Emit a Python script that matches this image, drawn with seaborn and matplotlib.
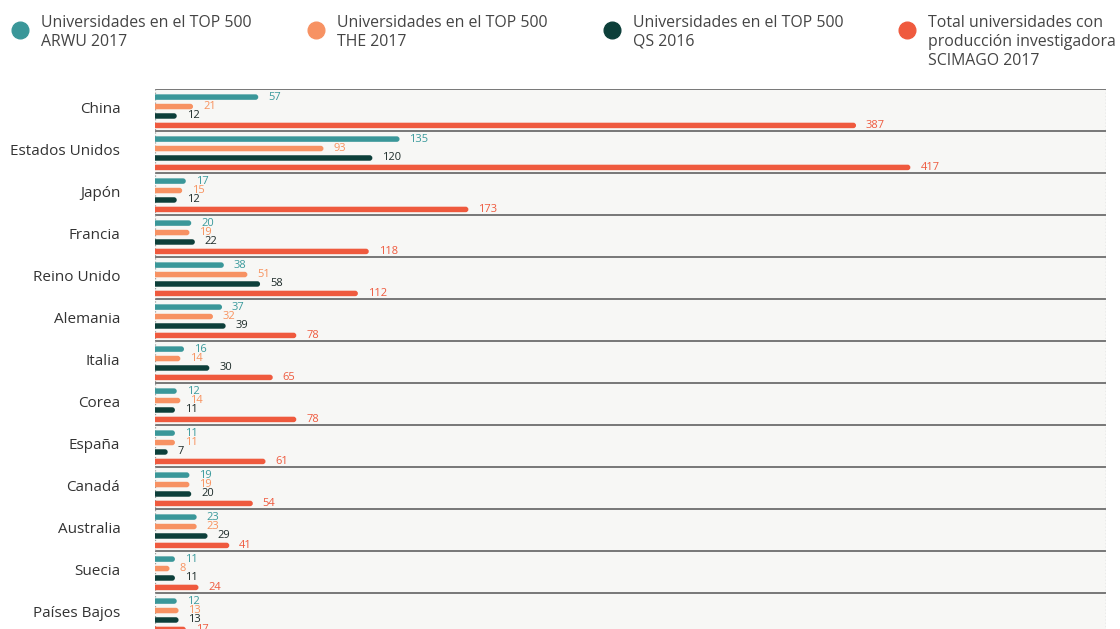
import matplotlib

matplotlib.use("Agg")
import matplotlib.pyplot as plt
import pandas as pd
import seaborn as sns
from matplotlib.lines import Line2D
from matplotlib.patches import FancyBboxPatch
from matplotlib.transforms import ScaledTranslation


PAISES = [
    "China", "Estados Unidos", "Japón", "Francia", "Reino Unido", "Alemania",
    "Italia", "Corea", "España", "Canadá", "Australia", "Suecia", "Países Bajos",
]
ARWU = [57, 135, 17, 20, 38, 37, 16, 12, 11, 19, 23, 11, 12]
THE = [21, 93, 15, 19, 51, 32, 14, 14, 11, 19, 23, 8, 13]
QS = [12, 120, 12, 22, 58, 39, 30, 11, 7, 20, 29, 11, 13]
SCIMAGO = [387, 417, 173, 118, 112, 78, 65, 78, 61, 54, 41, 24, 17]

SERIES = ["ARWU", "THE", "QS", "SCIMAGO"]
LEGEND_LABELS = [
    "Universidades en el TOP 500\nARWU 2017",
    "Universidades en el TOP 500\nTHE 2017",
    "Universidades en el TOP 500\nQS 2016",
    "Total universidades con\nproducción investigadora\nSCIMAGO 2017",
]
BAR_COLORS = ["#3a9799", "#f79263", "#0d3f3a", "#ef5a3e"]
TEXT_COLORS = ["#3a9a9c", "#f7925e", "#1d2b29", "#ef5a3e"]


def main() -> None:
    sns.set_style("white")
    plt.rcParams["font.family"] = ["Open Sans", "DejaVu Sans"]

    df = pd.DataFrame(
        {
            "pais": PAISES * 4,
            "serie": [s for s in SERIES for _ in PAISES],
            "valor": ARWU + THE + QS + SCIMAGO,
        }
    )

    fig = plt.figure(figsize=(11.2, 6.29), dpi=100)
    ax = fig.add_axes([155 / 1120, -6 / 629, 951 / 1120, (635 - 89) / 629])
    ax.set_facecolor("#f7f7f5")

    sns.barplot(
        data=df,
        y="pais",
        x="valor",
        hue="serie",
        hue_order=SERIES,
        order=PAISES,
        palette=BAR_COLORS,
        saturation=1,
        orient="h",
        width=0.9,
        gap=0.42,
        errorbar=None,
        legend=False,
        ax=ax,
    )

    ax.set_xlim(0, 525)
    ax.set_ylim(len(PAISES) - 0.5, -0.5)

    # rounded ends: swap each bar for a rounded patch of the same extent
    px_per_x = 951 / 525
    y_shift = 0.03
    for container, text_color in zip(ax.containers, TEXT_COLORS):
        for bar in container:
            x, y = bar.get_x(), bar.get_y() + y_shift
            w, h = bar.get_width(), bar.get_height()
            r = (h / 2) * (546 / 13) / px_per_x
            rounded = FancyBboxPatch(
                (x - r, y),
                w + r,
                h,
                boxstyle=f"round,pad=0,rounding_size={r}",
                mutation_aspect=(h / 2) / r,
                facecolor=bar.get_facecolor(),
                edgecolor="none",
                zorder=3,
            )
            ax.add_patch(rounded)
            bar.set_visible(False)
            ax.text(
                x + w + 5.5,
                y + h / 2,
                f"{w:.0f}",
                color=text_color,
                fontsize=8,
                va="center",
                ha="left",
                zorder=4,
            )

    for k in range(len(PAISES)):
        ax.axhline(k - 0.5, color="#555555", lw=1.1, zorder=2)
    ax.axvline(0, color="#9a9a9a", lw=0.9, ls=":", zorder=2)
    ax.axvline(525, color="#9a9a9a", lw=0.9, ls=":", zorder=2)

    for side in ["top", "bottom", "left", "right"]:
        ax.spines[side].set_visible(False)
    ax.set_xticks([])
    ax.set_xlabel("")
    ax.set_ylabel("")
    ax.tick_params(axis="y", length=0, pad=25, labelsize=11, labelcolor="#333333")
    lift = ScaledTranslation(0, 2.5 / 100, fig.dpi_scale_trans)
    for label in ax.get_yticklabels():
        label.set_transform(label.get_transform() + lift)

    # legend across the top
    legend_x = [20, 316, 612, 907]
    for lx, color, label in zip(legend_x, BAR_COLORS, LEGEND_LABELS):
        fig.add_artist(
            Line2D(
                [lx / 1120], [1 - 30 / 629],
                marker="o", markersize=12, color=color, lw=0,
                transform=fig.transFigure,
            )
        )
        fig.text(
            (lx + 21) / 1120, 1 - 15 / 629, label,
            fontsize=11.4, color="#444444", va="top", ha="left", linespacing=1.25,
        )

    fig.savefig("out.png", dpi=100)
    plt.close(fig)


if __name__ == "__main__":
    main()
